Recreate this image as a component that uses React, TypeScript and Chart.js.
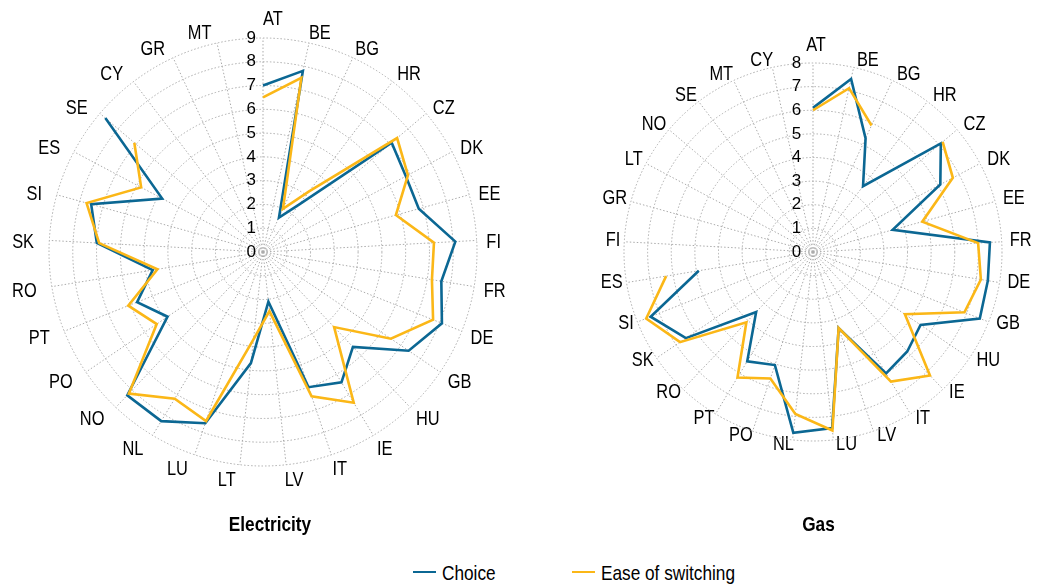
import React, { useEffect, useRef } from 'react';
import { Chart, registerables } from 'chart.js';

Chart.register(...registerables);

const FAMILY = "'Liberation Sans', Arial, sans-serif";
const BLUE = '#0b6793';
const YELLOW = '#fbb717';
const GRID = '#ababab';
const CONDENSE = 0.82;

const elecLabels = ['AT', 'BE', 'BG', 'HR', 'CZ', 'DK', 'EE', 'FI', 'FR', 'DE', 'GB', 'HU', 'IE', 'IT', 'LV', 'LT', 'LU', 'NL', 'NO', 'PO', 'PT', 'RO', 'SK', 'SI', 'ES', 'SE', 'CY', 'GR', 'MT'];
const elecChoice = [7.0, 7.8, 1.6, 2.5, 7.1, 6.8, 6.8, 8.1, 7.6, 8.1, 7.4, 5.5, 6.4, 6.0, 2.1, 4.7, 7.6, 8.3, 8.3, 4.85, 5.7, 4.7, 7.0, 7.5, 4.8, 8.7, null, null, null];
const elecEase = [6.5, 7.5, 2.0, 3.2, 7.4, 6.9, 5.8, 7.2, 7.2, 7.7, 6.5, 4.35, 7.4, 6.4, 2.5, 3.7, 7.5, 7.2, 8.2, 5.4, 6.1, 4.5, 6.9, 7.7, 5.8, 7.1, null, null, null];

const gasLabels = ['AT', 'BE', 'BG', 'HR', 'CZ', 'DK', 'EE', 'FR', 'DE', 'GB', 'HU', 'IE', 'IT', 'LV', 'LU', 'NL', 'PO', 'PT', 'RO', 'SK', 'SI', 'ES', 'FI', 'GR', 'LT', 'NO', 'SE', 'MT', 'CY'];
const gasChoice = [6.1, 7.5, 5.3, 3.5, 7.1, 6.1, 3.5, 7.5, 7.5, 7.6, 5.5, 5.8, 6.0, 3.4, 7.5, 7.7, 5.05, 5.4, 3.5, 6.5, 7.4, 4.9, null, null, null, null, null, null, null];
const gasEase = [6.0, 7.1, 5.9, null, 7.2, 6.7, 4.8, 7.0, 7.2, 6.9, 4.7, 7.2, 6.4, 3.4, 7.6, 6.9, 5.65, 6.2, 4.1, 6.8, 7.6, 6.3, null, null, null, null, null, null, null];

type PanelProps = {
  labels: string[];
  choice: (number | null)[];
  ease: (number | null)[];
  max: number;
  title: string;
  left: number;
  width: number;
  height: number;
  padLeft: number;
  cx: number;
  cy: number;
  radius: number;
  tickSpaces: number;
  lblPad: number;
  lblDx: number;
  lblDy: number;
  topAlign: 'left' | 'center';
  topDx: number;
  topDy: number;
};

// Draw large text (labels, titles) in a condensed style like the original narrow face.
const condensePlugin = {
  id: 'condense',
  beforeInit(chart: any) {
    const ctx = chart.ctx;
    const orig = ctx.fillText.bind(ctx);
    ctx.fillText = function (text: string, x: number, y: number) {
      const m = /(\d+(?:\.\d+)?)px/.exec(ctx.font);
      const size = m ? parseFloat(m[1]) : 0;
      if (size >= 19) {
        ctx.save();
        ctx.translate(x, y);
        ctx.scale(CONDENSE, 1);
        orig(text, 0, 0);
        ctx.restore();
      } else {
        orig(text, x, y);
      }
    };
  },
};

function RadarPanel(p: PanelProps) {
  const ref = useRef<HTMLCanvasElement>(null);
  useEffect(() => {
    const spaces = ' '.repeat(p.tickSpaces);
    const zeroLabel = {
      id: 'zeroLabel',
      beforeDatasetsDraw(chart: any) {
        const s = chart.scales.r;
        const ctx = chart.ctx;
        const pos = s.getPointPositionForValue(0, 0);
        ctx.save();
        ctx.font = `17px ${FAMILY}`;
        ctx.fillStyle = '#000';
        ctx.textAlign = 'center';
        ctx.textBaseline = 'middle';
        ctx.fillText('0' + spaces, pos.x, pos.y);
        ctx.restore();
      },
    };
    const chart = new Chart(ref.current as HTMLCanvasElement, {
      type: 'radar',
      data: {
        labels: p.labels,
        datasets: [
          { label: 'Ease of switching', data: p.ease as any, borderColor: YELLOW, backgroundColor: YELLOW, order: 0 },
          { label: 'Choice', data: p.choice as any, borderColor: BLUE, backgroundColor: BLUE, order: 1 },
        ],
      },
      options: {
        responsive: false,
        animation: false,
        devicePixelRatio: 1,
        spanGaps: false,
        layout: { padding: { left: p.padLeft, right: 0, top: 0, bottom: 7 } },
        elements: {
          line: { borderWidth: 2.6, tension: 0, fill: false },
          point: { radius: 0, hoverRadius: 0 },
        },
        plugins: {
          legend: { display: false },
          tooltip: { enabled: false },
          title: {
            display: true,
            text: p.title,
            position: 'bottom',
            color: '#000',
            font: { family: FAMILY, size: 21, weight: 'bold' },
            padding: { top: 0, bottom: 0 },
          },
        },
        scales: {
          r: {
            min: 0,
            max: p.max,
            ticks: {
              stepSize: 1,
              color: '#000',
              font: { family: FAMILY, size: 17 },
              showLabelBackdrop: false,
              callback: (v: any) => String(v) + spaces,
            },
            grid: { circular: true, color: GRID, lineWidth: 1 },
            border: { dash: [1.5, 2] },
            angleLines: { color: GRID, lineWidth: 1, borderDash: [1.5, 2] },
            pointLabels: { color: '#000', font: { family: FAMILY, size: 20 }, padding: 8 },
            afterFit: (scale: any) => {
              scale.xCenter = p.cx;
              scale.yCenter = p.cy;
              scale.drawingArea = p.radius;
              const lh = 24;
              const items = scale._pointLabelItems || [];
              items.forEach((it: any, i: number) => {
                const deg = Math.round((scale.getIndexAngle(i) * 180) / Math.PI) % 360;
                const anchor = scale.getPointPosition(i, p.radius + p.lblPad);
                const w = it.right - it.left;
                let align: string;
                let x: number;
                let yc: number;
                if (deg === 0) {
                  align = p.topAlign;
                  x = anchor.x + p.topDx;
                  yc = anchor.y + p.topDy;
                } else {
                  align = deg < 180 ? 'left' : 'right';
                  x = anchor.x + p.lblDx;
                  yc = anchor.y + p.lblDy;
                }
                const left = align === 'left' ? x : align === 'right' ? x - w : x - w / 2;
                it.textAlign = align;
                it.x = x;
                it.left = left;
                it.right = left + w;
                it.y = yc - lh / 2;
                it.top = yc - lh / 2;
                it.bottom = yc + lh / 2;
              });
            },
          } as any,
        },
      } as any,
      plugins: [condensePlugin, zeroLabel],
    });
    return () => chart.destroy();
  }, []);
  return (
    <canvas
      ref={ref}
      width={p.width}
      height={p.height}
      style={{ position: 'absolute', left: p.left, top: 0, width: p.width, height: p.height }}
    />
  );
}

export default function App() {
  const textStyle: React.CSSProperties = {
    position: 'absolute',
    top: 561,
    font: `21px ${FAMILY}`,
    lineHeight: '24px',
    color: '#000',
    whiteSpace: 'nowrap',
    transform: `scaleX(${CONDENSE})`,
    transformOrigin: 'left center',
  };
  return (
    <div style={{ position: 'absolute', left: 0, top: 0, width: 1037, height: 586, background: '#fff', overflow: 'hidden' }}>
      <RadarPanel
        labels={elecLabels}
        choice={elecChoice}
        ease={elecEase}
        max={9}
        title="Electricity"
        left={0}
        width={540}
        height={545}
        padLeft={0}
        cx={263}
        cy={252}
        radius={214}
        tickSpaces={5}
        lblPad={12.5}
        lblDx={-2.8}
        lblDy={3}
        topAlign="left"
        topDx={0}
        topDy={-6}
      />
      <RadarPanel
        labels={gasLabels}
        choice={gasChoice}
        ease={gasEase}
        max={8}
        title="Gas"
        left={590}
        width={447}
        height={545}
        padLeft={10}
        cx={223}
        cy={252}
        radius={189}
        tickSpaces={7}
        lblPad={6}
        lblDx={2}
        lblDy={-1}
        topAlign="center"
        topDx={3}
        topDy={-12}
      />
      <div style={{ position: 'absolute', left: 413, top: 570.5, width: 23, height: 2.6, background: BLUE }} />
      <div style={{ ...textStyle, left: 442 }}>Choice</div>
      <div style={{ position: 'absolute', left: 572, top: 570.5, width: 23, height: 2.6, background: YELLOW }} />
      <div style={{ ...textStyle, left: 601 }}>Ease of switching</div>
    </div>
  );
}
